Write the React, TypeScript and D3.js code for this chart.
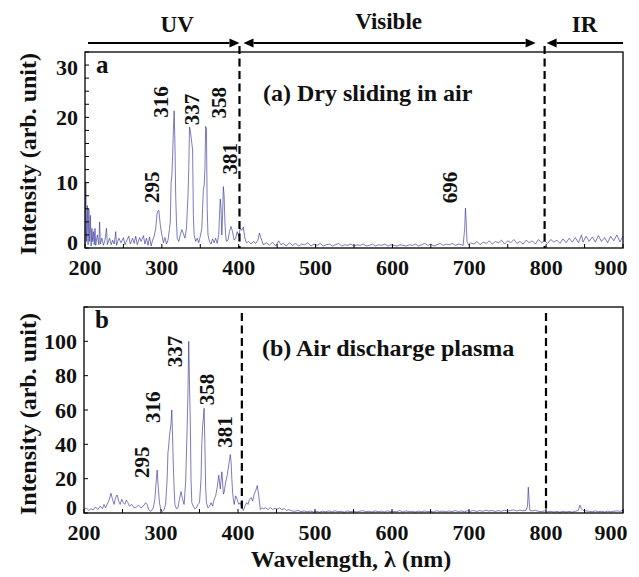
import React from 'react';
import * as d3 from 'd3';

const W = 639;
const H = 577;

// Emission spectra as [wavelength (nm), intensity (arb. unit)] pairs
const slidingSpectrum: [number, number][] = [
  [200, 0.5], [201, 10], [202, 1], [203, 6.5], [204, 0.5], [205, 6], [206, 1], [207, 5], [208, 0.3],
  [209, 3], [210, 1], [211, 2.5], [212, 0.5], [213, 3], [214, 0.4], [216, 2], [218, 0.5], [219, 4],
  [220, 0.6], [222, 1.5], [224, 0.4], [226, 1.2], [228, 3], [229, 0.5], [232, 1.5], [234, 0.5],
  [236, 1.2], [238, 0.6], [240, 2.5], [241, 0.4], [244, 1.5], [247, 0.8], [250, 1.6], [252, 0.5],
  [255, 1.3], [257, 1.8], [259, 0.6], [262, 1.5], [264, 0.7], [266, 1.8], [268, 0.5], [271, 1.6],
  [273, 1.0], [276, 1.9], [278, 0.6], [280, 1.5], [282, 0.4], [284, 1.7], [286, 0.3], [288, 1.2],
  [290, 1.8], [292, 3], [294, 5.5], [296, 5.8], [298, 3.5], [300, 2], [302, 0.8], [304, 1.6],
  [306, 0.6], [308, 1.2], [310, 3], [311, 4], [312, 10], [313, 11], [314, 14], [315, 18], [316, 21],
  [317, 16], [318, 8], [319, 4], [320, 1.5], [322, 1], [324, 2], [326, 2.8], [328, 2.2], [330, 1.5],
  [332, 3], [334, 8], [335, 12], [336, 18.5], [337, 18], [338, 17], [339, 16], [340, 15], [341, 5],
  [342, 2], [344, 1], [346, 1.5], [348, 0.8], [350, 1.8], [352, 3], [353, 6], [354, 9], [355, 9.5],
  [356, 12], [357, 18.6], [358, 18.2], [359, 6], [360, 2], [362, 1], [364, 0.6], [366, 1.4],
  [368, 0.8], [370, 1.5], [372, 0.7], [374, 2], [375, 5], [376, 7.5], [377, 6], [378, 2], [379, 5],
  [380, 9.4], [381, 8], [382, 4], [383, 2], [384, 1], [386, 1.2], [388, 2.5], [390, 3.3], [392, 2.5],
  [394, 1.2], [396, 1.5], [398, 2.5], [400, 1.8], [402, 3], [404, 2.7], [406, 3.2], [408, 1.5],
  [410, 0.8], [413, 1], [416, 0.6], [419, 1], [422, 0.7], [425, 1.2], [427, 2.3], [429, 1.5],
  [432, 0.5], [436, 0.8], [440, 0.4], [444, 0.9], [448, 0.3], [452, 1.1], [455, 0.5], [458, 0.7],
  [462, 0.3], [466, 0.8], [470, 0.4], [474, 0.7], [478, 0.3], [482, 0.6], [486, 0.5], [490, 0.8],
  [494, 0.3], [498, 0.6], [502, 0.4], [506, 0.7], [510, 0.3], [514, 0.5], [518, 0.6], [522, 0.3],
  [526, 0.5], [530, 0.7], [534, 0.3], [538, 0.5], [542, 0.4], [546, 0.6], [550, 0.3], [554, 0.5],
  [558, 0.4], [562, 0.6], [566, 0.3], [570, 0.4], [574, 0.6], [578, 0.3], [582, 0.5], [586, 0.4],
  [590, 0.6], [594, 0.3], [598, 0.5], [602, 0.4], [606, 0.3], [610, 0.5], [614, 0.4], [618, 0.3],
  [622, 0.5], [626, 0.4], [630, 0.6], [634, 0.3], [638, 0.5], [642, 0.7], [646, 0.4], [650, 0.6],
  [654, 0.3], [658, 0.5], [662, 0.7], [666, 0.4], [670, 0.6], [674, 0.5], [678, 0.7], [682, 0.4],
  [686, 0.6], [690, 0.5], [692, 0.4], [694, 3], [695, 6.1], [696, 4], [697, 1], [699, 0.5],
  [702, 0.8], [706, 0.6], [710, 1.0], [714, 0.5], [718, 0.9], [722, 0.7], [726, 1.1], [730, 0.6],
  [734, 1.0], [738, 0.8], [742, 1.2], [746, 0.6], [750, 1.1], [754, 0.8], [758, 1.3], [762, 0.7],
  [766, 1.0], [770, 0.6], [774, 1.2], [778, 0.8], [782, 1.1], [786, 0.6], [790, 1.3], [794, 0.8],
  [798, 1.1], [802, 0.7], [806, 1.3], [810, 0.9], [814, 1.2], [818, 0.7], [822, 1.4], [826, 0.8],
  [830, 1.5], [834, 0.9], [838, 1.6], [842, 0.8], [846, 2.0], [848, 0.9], [852, 1.8], [856, 1.0],
  [860, 1.7], [864, 0.9], [868, 1.9], [872, 1.0], [876, 1.6], [880, 0.8], [884, 1.8], [888, 1.1],
  [892, 2.0], [896, 0.9], [900, 1.8],
];

const dischargeSpectrum: [number, number][] = [
  [200, 2], [203, 3], [206, 1.5], [209, 2.5], [212, 1.8], [215, 3.5], [218, 2], [221, 4], [224, 2.5],
  [226, 5], [228, 3], [231, 6], [233, 8], [235, 11.5], [237, 8], [239, 5], [241, 9], [243, 10.5],
  [245, 7], [247, 5], [249, 8], [251, 6], [253, 5], [255, 7.5], [257, 6], [259, 4], [262, 5],
  [265, 3], [268, 3.5], [271, 4.5], [274, 3], [277, 4], [280, 6], [282, 5], [284, 2], [286, 1],
  [288, 1.5], [290, 3], [292, 8], [294, 20], [295, 25], [296, 18], [298, 6], [300, 1.5], [302, 1],
  [304, 2], [306, 5], [308, 20], [309, 35], [310, 39], [311, 45], [313, 52], [314, 60], [315, 45],
  [316, 28], [317, 15], [318, 5], [320, 2.5], [322, 3], [324, 8], [326, 12.5], [328, 8], [330, 5],
  [332, 18], [334, 50], [335, 70], [336, 100], [337, 75], [338, 55], [339, 20], [340, 6], [342, 4],
  [344, 2.5], [346, 3], [348, 5], [350, 6], [352, 20], [353, 40], [354, 50], [356, 61], [357, 40],
  [358, 15], [359, 6], [361, 3], [363, 4], [365, 6], [367, 4], [369, 8], [371, 10], [373, 15],
  [375, 22], [376, 18], [377, 14], [378, 19], [379, 24], [380, 18], [381, 11], [382, 12], [384, 18],
  [386, 22], [388, 28], [390, 34], [391, 30], [392, 20], [393, 12], [394, 8], [395, 5], [397, 10],
  [399, 8], [401, 5], [403, 6], [405, 3], [407, 1.5], [409, 4], [411, 6], [413, 5], [415, 8],
  [417, 9], [419, 7], [421, 11], [423, 13], [425, 16], [427, 10], [429, 2], [431, 3], [433, 2.5],
  [436, 3], [439, 2], [442, 3.2], [445, 2], [448, 2.8], [451, 2.3], [454, 3], [457, 2], [460, 2.6],
  [463, 1.5], [466, 2], [470, 1.2], [474, 1], [478, 1.5], [482, 0.8], [486, 1.2], [490, 0.7],
  [494, 1.1], [498, 0.6], [502, 1.0], [506, 0.5], [510, 1.1], [514, 0.7], [518, 1.2], [522, 0.6],
  [526, 1.3], [530, 0.8], [534, 1.0], [538, 0.5], [542, 1.2], [546, 0.7], [550, 1.1], [554, 0.6],
  [558, 1.0], [562, 1.4], [566, 0.7], [570, 1.0], [574, 0.6], [578, 1.2], [582, 0.8], [586, 1.1],
  [590, 0.6], [594, 1.3], [598, 0.8], [602, 1.0], [606, 0.7], [610, 1.4], [614, 0.6], [618, 1.2],
  [622, 0.9], [626, 1.0], [630, 0.6], [634, 1.1], [638, 0.7], [642, 1.2], [646, 0.8], [650, 1.0],
  [654, 0.6], [658, 1.3], [662, 0.9], [666, 1.1], [670, 0.7], [674, 1.2], [678, 0.8], [682, 1.4],
  [686, 0.9], [690, 1.2], [694, 0.7], [698, 1.3], [702, 1.0], [706, 1.5], [710, 0.9], [714, 1.4],
  [718, 1.0], [722, 1.6], [726, 1.1], [730, 1.5], [734, 0.9], [738, 1.4], [742, 1.0], [746, 1.6],
  [750, 1.1], [754, 1.5], [758, 1.8], [762, 1.2], [766, 1.7], [770, 1.3], [774, 1.5], [776, 4],
  [777, 15], [778, 8], [779, 1.5], [782, 1.2], [786, 1.6], [790, 1.0], [794, 0.8], [798, 1.2],
  [802, 0.7], [806, 1.0], [810, 0.6], [814, 0.9], [818, 0.5], [822, 1.0], [826, 0.6], [830, 0.9],
  [834, 0.5], [838, 1.0], [842, 1.5], [844, 4.5], [846, 2.5], [848, 1.5], [852, 1.2], [856, 1.0],
  [860, 0.7], [864, 1.2], [868, 0.8], [872, 1.0], [876, 0.6], [880, 1.1], [884, 0.7], [888, 1.0],
  [892, 1.2], [896, 1.0], [900, 1.5],
];

// Labelled emission lines (nm)
const slidingPeaks = [295, 316, 337, 358, 381, 696];
const dischargePeaks = [295, 316, 337, 358, 381];

// Axis ticks
const xTickLabels = [200, 300, 400, 500, 600, 700, 800, 900];
const slidingYTicks = [0, 10, 20, 30];
const dischargeYTicks = [0, 20, 40, 60, 80, 100];

// Spectral regions above the plots
const regionNames = ['UV', 'Visible', 'IR'];
const regionLabelAt = [320, 595, 850];
const slidingBounds = [401, 798];
const dischargeBounds = [405, 800];

// Label offsets (px) from each peak top: [dx, dy]
const slidingLabelShift: Record<number, [number, number]> = {
  295: [-6, -7], 316: [-13, 7], 337: [2, -2], 358: [13, -8], 381: [6, -12], 696: [-16, -5],
};
const dischargeLabelShift: Record<number, [number, number]> = {
  295: [-15, 8], 316: [-20, 13], 337: [-14.5, 26], 358: [1, -3], 381: [2, -7],
};

const FONT = "'Liberation Serif', 'Times New Roman', serif";
const LINE = '#34349a';

type PanelProps = {
  left: number; top: number; right: number; bottom: number;
  yMax: number; yTicks: number[]; yTickStep: number;
  data: [number, number][]; peaks: number[]; shifts: Record<number, [number, number]>;
  letter: string; title: string; bounds: number[]; dashTop: number;
};

function Panel(p: PanelProps) {
  const x = d3.scaleLinear().domain([200, 900]).range([p.left, p.right]);
  const y = d3.scaleLinear().domain([0, p.yMax]).range([p.bottom, p.top]);
  const line = d3.line<[number, number]>().x(d => x(d[0])).y(d => y(d[1]));
  const minorY = d3.range(0, p.yMax + 0.001, p.yTickStep);
  const minorX = d3.range(200, 901, 50);
  const labelY = (v: number) => Math.min(p.bottom - 6, Math.max(p.top + 15, y(v)));
  const peakTop = (nm: number) =>
    d3.max(p.data.filter(d => Math.abs(d[0] - nm) <= 10), d => d[1]) ?? 0;
  return (
    <g fontFamily={FONT} fontWeight="bold" fill="#111">
      <path d={line(p.data) ?? ''} fill="none" stroke={LINE} strokeWidth={0.65} />
      {minorY.map(v => (
        <line key={'yt' + v} x1={p.left} x2={p.left + 4} y1={y(v)} y2={y(v)} stroke="#000" strokeWidth={1} />
      ))}
      {minorX.map(v => (
        <line key={'xt' + v} x1={x(v)} x2={x(v)} y1={p.bottom} y2={p.bottom - 4} stroke="#000" strokeWidth={1} />
      ))}
      <rect x={p.left} y={p.top} width={p.right - p.left} height={p.bottom - p.top}
        fill="none" stroke="#000" strokeWidth={1.3} />
      {p.bounds.map(b => (
        <line key={'b' + b} x1={x(b)} x2={x(b)} y1={p.dashTop} y2={p.bottom}
          stroke="#000" strokeWidth={2.2} strokeDasharray="8,4.5" />
      ))}
      {p.yTicks.map(v => (
        <text key={'yl' + v} x={p.left - 7} y={labelY(v)} textAnchor="end" dominantBaseline="central" fontSize={22}>
          {v}
        </text>
      ))}
      {xTickLabels.map(v => (
        <text key={'xl' + v} x={Math.min(x(v), p.right - 12)} y={p.bottom + 27} textAnchor="middle" fontSize={22}>
          {v}
        </text>
      ))}
      {p.peaks.map(nm => {
        const [dx, dy] = p.shifts[nm];
        const cx = x(nm) + dx;
        const by = y(peakTop(nm)) + dy;
        return (
          <text key={'pk' + nm} transform={`translate(${cx},${by}) rotate(-90)`}
            textAnchor="start" dominantBaseline="central" fontSize={21}>
            {nm}
          </text>
        );
      })}
      <text x={p.left + 11} y={p.top + 21} fontSize={25}>{p.letter}</text>
      <text x={p.left + 178} y={p.top + 49} fontSize={24}>{p.title}</text>
      <text transform={`translate(36,${(p.top + p.bottom) / 2 + 4}) rotate(-90)`} textAnchor="middle" fontSize={24}>
        Intensity (arb. unit)
      </text>
    </g>
  );
}

function Arrow({ x1, x2, y, heads }: { x1: number; x2: number; y: number; heads: ('start' | 'end')[] }) {
  const L = 10;
  const h = 4.5;
  const s = heads.includes('start') ? x1 + L : x1;
  const e = heads.includes('end') ? x2 - L : x2;
  return (
    <g>
      <line x1={s} x2={e} y1={y} y2={y} stroke="#000" strokeWidth={1.8} />
      {heads.includes('start') && <path d={`M${x1},${y}L${x1 + L},${y - h}L${x1 + L},${y + h}Z`} fill="#000" />}
      {heads.includes('end') && <path d={`M${x2},${y}L${x2 - L},${y - h}L${x2 - L},${y + h}Z`} fill="#000" />}
    </g>
  );
}

export default function App() {
  const top = { left: 85, top: 52, right: 623, bottom: 248 };
  const bot = { left: 84, top: 307, right: 623, bottom: 513 };
  const x = d3.scaleLinear().domain([200, 900]).range([top.left, top.right]);
  const ay = 43;
  return (
    <svg width={W} height={H} style={{ display: 'block', position: 'absolute', left: 0, top: 0 }}>
      <rect width={W} height={H} fill="#fff" />
      <Panel {...top} yMax={30} yTicks={slidingYTicks} yTickStep={2} data={slidingSpectrum}
        peaks={slidingPeaks} shifts={slidingLabelShift} letter="a" title="(a) Dry sliding in air"
        bounds={slidingBounds} dashTop={46} />
      <Panel {...bot} yMax={120} yTicks={dischargeYTicks} yTickStep={20} data={dischargeSpectrum}
        peaks={dischargePeaks} shifts={dischargeLabelShift} letter="b" title="(b) Air discharge plasma"
        bounds={dischargeBounds} dashTop={313} />
      <Arrow x1={x(200) + 3} x2={x(slidingBounds[0])} y={ay} heads={['end']} />
      <Arrow x1={x(slidingBounds[0]) + 4} x2={x(slidingBounds[1]) - 9} y={ay} heads={['start', 'end']} />
      <Arrow x1={x(slidingBounds[1]) + 2} x2={x(900)} y={ay} heads={['start']} />
      <g fontFamily={FONT} fontWeight="bold" fill="#111" fontSize={23} textAnchor="middle">
        {regionNames.map((n, i) => (
          <text key={n} x={x(regionLabelAt[i])} y={n === 'Visible' ? 29 : 32}>{n}</text>
        ))}
        <text x={351} y={567} fontSize={24}>Wavelength, λ (nm)</text>
      </g>
    </svg>
  );
}
